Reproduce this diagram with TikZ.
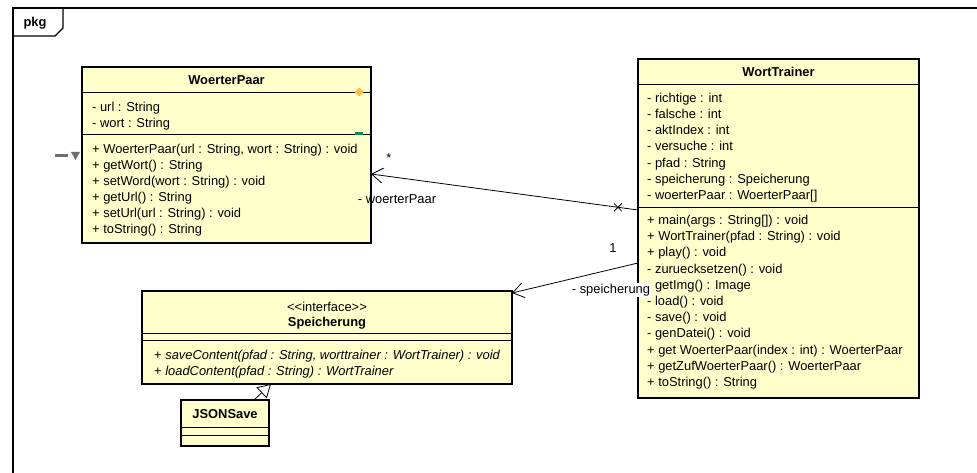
\documentclass[tikz,border=0pt]{standalone}
\usepackage{fontspec}
\setmainfont{Liberation Sans}
\usetikzlibrary{arrows.meta,shapes.misc,calc}
\definecolor{classfill}{RGB}{255,255,204}
\definecolor{markgray}{RGB}{110,110,110}
\definecolor{markorange}{RGB}{250,190,70}
\definecolor{markgreen}{RGB}{16,140,90}
\newcommand{\umlfont}{\fontsize{12.9}{15}\selectfont}
\begin{document}
\begin{tikzpicture}[x=1pt,y=-1pt,
  classbox/.style={draw, line width=1.6pt, fill=classfill, anchor=north west,
    inner sep=0pt, outer sep=0pt},
  sepline/.style={line width=0.9pt},
  member/.style={anchor=base west, inner sep=0pt, font=\umlfont},
  ctitle/.style={anchor=base, inner sep=0pt, font=\umlfont\bfseries},
  stereo/.style={anchor=base, inner sep=0pt, font=\umlfont},
  rolelabel/.style={inner sep=1pt, font=\umlfont},
  assoc/.style={line width=0.8pt, -{Straight Barb[length=11pt,width=15pt,line width=0.8pt]}},
  realize/.style={line width=0.8pt, -{Triangle[open,length=13pt,width=15pt,line width=0.8pt,fill=white]}},
  frameline/.style={line width=1.1pt}]

\useasboundingbox (0,0) rectangle (977,473);

% package frame with its name tab
\draw[frameline] (977,8) -- (13,8) -- (13,473);
\draw[frameline] (63,8) -- (63,28) -- (55,36) -- (13,36);
\node[anchor=base, inner sep=0pt, font=\umlfont\bfseries] (pkgname) at (35,27) {pkg};

% ---------------- WoerterPaar ----------------
\node[classbox, minimum width=289pt, minimum height=176pt] (wp) at (82,67) {};
\draw[sepline] ([yshift=-25pt]wp.north west) -- ([yshift=-25pt]wp.north east);
\draw[sepline] ([yshift=-67pt]wp.north west) -- ([yshift=-67pt]wp.north east);
\node[ctitle] (wptitle) at (226.5,84.5) {WoerterPaar};
\node[member] (wpa1) at (92,111.5) {- url : String};
\node[member] (wpa2) at (92,127.5) {- wort : String};
\node[member] (wpm1) at (92,153.5) {+ WoerterPaar(url : String, wort : String) : void};
\node[member] (wpm2) at (92,169.5) {+ getWort() : String};
\node[member] (wpm3) at (92,185.5) {+ setWord(wort : String) : void};
\node[member] (wpm4) at (92,201.5) {+ getUrl() : String};
\node[member] (wpm5) at (92,217.5) {+ setUrl(url : String) : void};
\node[member] (wpm6) at (92,233.5) {+ toString() : String};
% small markers on the WoerterPaar box
\fill[markorange] (359,87.5) -- (363.5,92) -- (359,96.5) -- (354.5,92) -- cycle;
\fill[markgreen] (355,132) rectangle (363,135.5);
\fill[markgray] (55,154.5) rectangle (68,157.5);
\fill[markgray] (71,152) -- (80,152) -- (75.5,160) -- cycle;

% ---------------- WortTrainer ----------------
\node[classbox, minimum width=281pt, minimum height=339pt] (wt) at (638,59) {};
\draw[sepline] ([yshift=-25pt]wt.north west) -- ([yshift=-25pt]wt.north east);
\draw[sepline] ([yshift=-148pt]wt.north west) -- ([yshift=-148pt]wt.north east);
\node[ctitle] (wttitle) at (778.5,76.5) {WortTrainer};
\node[member] (wta1) at (647,102.5) {- richtige : int};
\node[member] (wta2) at (647,118.7) {- falsche : int};
\node[member] (wta3) at (647,134.9) {- aktIndex : int};
\node[member] (wta4) at (647,151.0) {- versuche : int};
\node[member] (wta5) at (647,167.2) {- pfad : String};
\node[member] (wta6) at (647,183.4) {- speicherung : Speicherung};
\node[member] (wta7) at (647,199.5) {- woerterPaar : WoerterPaar[]};
\node[member] (wtm1) at (647,224.5) {+ main(args : String[]) : void};
\node[member] (wtm2) at (647,240.7) {+ WortTrainer(pfad : String) : void};
\node[member] (wtm3) at (647,256.9) {+ play() : void};
\node[member] (wtm4) at (647,273.1) {- zuruecksetzen() : void};
\node[member] (wtm5) at (647,289.3) {- getImg() : Image};
\node[member] (wtm6) at (647,305.5) {- load() : void};
\node[member] (wtm7) at (647,321.7) {- save() : void};
\node[member] (wtm8) at (647,337.9) {- genDatei() : void};
\node[member] (wtm9) at (647,354.1) {+ get WoerterPaar(index : int) : WoerterPaar};
\node[member] (wtm10) at (647,370.3) {+ getZufWoerterPaar() : WoerterPaar};
\node[member] (wtm11) at (647,386.5) {+ toString() : String};

% ---------------- Speicherung ----------------
\node[classbox, minimum width=370pt, minimum height=93pt] (sp) at (142,291) {};
\draw[sepline] ([yshift=-42pt]sp.north west) -- ([yshift=-42pt]sp.north east);
\draw[sepline] ([yshift=-49pt]sp.north west) -- ([yshift=-49pt]sp.north east);
\node[stereo] (spstereo) at (327,311) {{<}{<}interface{>}{>}};
\node[ctitle] (sptitle) at (327,326.5) {Speicherung};
\node[member] (spm1) at (154,359.5) {+ \itshape saveContent(pfad : String, worttrainer : WortTrainer) : void};
\node[member] (spm2) at (154,375.5) {+ \itshape loadContent(pfad : String) : WortTrainer};

% ---------------- JSONSave ----------------
\node[classbox, minimum width=88pt, minimum height=46pt] (js) at (181,400) {};
\draw[sepline] ([yshift=-27pt]js.north west) -- ([yshift=-27pt]js.north east);
\draw[sepline] ([yshift=-35pt]js.north west) -- ([yshift=-35pt]js.north east);
\node[ctitle] (jstitle) at (225,418.5) {JSONSave};

% ---------------- relations ----------------
\draw[assoc] ([yshift=-151pt]wt.north west) -- ([yshift=-107pt]wp.north east)
  node[pos=0.075, cross out, draw, line width=0.8pt, minimum size=7pt, inner sep=0pt] (wpx) {};
\node[rolelabel] (wpmult) at (389,158) {*};
\node[rolelabel] (wprole) at (397,199) {- woerterPaar};

\draw[assoc] ([yshift=-204pt]wt.north west) -- ([yshift=-2pt]sp.north east);
\node[rolelabel] (spmult) at (613,248) {1};
\node[rolelabel, fill=white, inner sep=0.5pt] (sprole) at (611,290) {- speicherung};

\draw[realize] ([xshift=73pt]js.north west) -- ([xshift=129pt]sp.south west);

\end{tikzpicture}
\end{document}
